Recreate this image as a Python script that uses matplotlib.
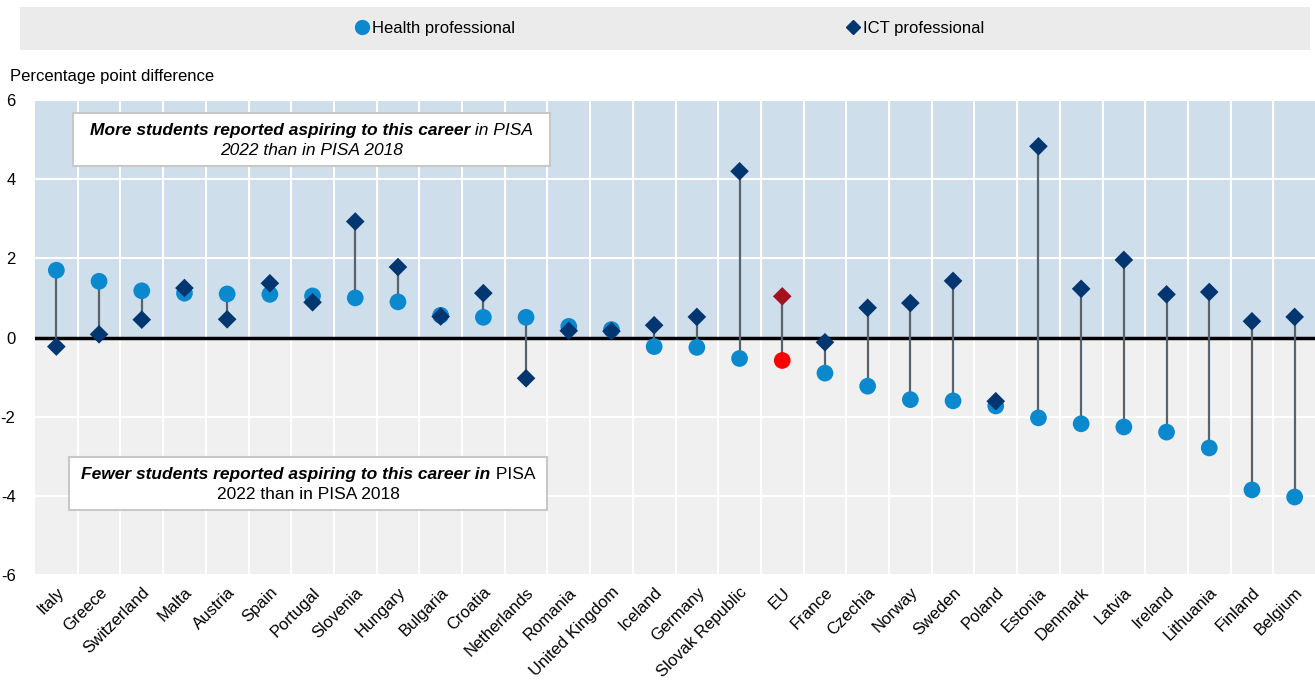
import numpy as np
import matplotlib.pyplot as plt
from matplotlib.patches import Rectangle
from matplotlib.lines import Line2D

plt.rcParams['font.family'] = ['Liberation Sans', 'DejaVu Sans']
plt.rcParams['axes.unicode_minus'] = False

countries = ["Italy", "Greece", "Switzerland", "Malta", "Austria", "Spain", "Portugal",
             "Slovenia", "Hungary", "Bulgaria", "Croatia", "Netherlands", "Romania",
             "United Kingdom", "Iceland", "Germany", "Slovak Republic", "EU", "France",
             "Czechia", "Norway", "Sweden", "Poland", "Estonia", "Denmark", "Latvia",
             "Ireland", "Lithuania", "Finland", "Belgium"]
health = [1.70, 1.42, 1.18, 1.12, 1.10, 1.09, 1.05, 1.00, 0.90, 0.56, 0.51, 0.51, 0.28,
          0.20, -0.23, -0.25, -0.53, -0.58, -0.90, -1.23, -1.57, -1.60, -1.73, -2.03,
          -2.18, -2.26, -2.39, -2.79, -3.85, -4.03]
ict = [-0.23, 0.08, 0.45, 1.25, 0.46, 1.37, 0.89, 2.93, 1.78, 0.53, 1.12, -1.03, 0.17,
       0.16, 0.31, 0.52, 4.20, 1.04, -0.12, 0.75, 0.87, 1.43, -1.61, 4.83, 1.23, 1.96,
       1.09, 1.15, 0.41, 0.52]
y_ticks = [-6, -4, -2, 0, 2, 4, 6]

c_health = "#0a89cf"
c_ict = "#023670"
c_health_eu = "#ff0000"
c_ict_eu = "#a3121e"

x = np.arange(len(countries))
eu = countries.index("EU")

fig = plt.figure(figsize=(13.15, 6.85), dpi=100)
ax = fig.add_axes([35 / 1315, 110 / 685, 1281 / 1315, 475 / 685])

ax.set_xlim(-0.5, len(countries) - 0.5)
ax.set_ylim(-6, 6)
ax.axhspan(0, 6, color="#cedeeb", zorder=0, lw=0)
ax.axhspan(-6, 0, color="#f0f0f0", zorder=0, lw=0)

ax.set_yticks(y_ticks)
ax.set_xticks(x)
ax.set_xticks(x[:-1] + 0.5, minor=True)
ax.grid(True, which="minor", axis="x", color="white", lw=1.5)
ax.grid(True, which="major", axis="y", color="white", lw=1.5)
ax.set_axisbelow(True)
for s in ax.spines.values():
    s.set_visible(False)
ax.tick_params(axis="both", which="both", length=0)
ax.tick_params(axis="y", labelsize=12, pad=14)
ax.set_xticklabels(countries, rotation=45, ha="right", rotation_mode="anchor", fontsize=12)
ax.tick_params(axis="x", pad=7)

ax.axhline(0, color="black", lw=2.5, zorder=2)

# stems
ax.vlines(x, health, ict, color="#58626b", lw=1.6, zorder=3)

hc = [c_health_eu if i == eu else c_health for i in x]
ic = [c_ict_eu if i == eu else c_ict for i in x]
ax.scatter(x, health, s=145, c=hc, marker="o", zorder=4, lw=0)
ax.scatter(x, ict, s=90, c=ic, marker="D", zorder=5, lw=0)

fig.text(10 / 1315, 1 - 76 / 685, "Percentage point difference", fontsize=12,
         ha="left", va="center")


# annotation boxes
def note_box(x0, x1, y0, y1, parts1, line2, style2):
    ax.add_patch(Rectangle((x0, y0), x1 - x0, y1 - y0, facecolor="white",
                           edgecolor="#c8c8c8", lw=1.5, zorder=6))
    xc = (x0 + x1) / 2
    ym = (y0 + y1) / 2
    t1 = ax.text(xc, ym, parts1[0][0], fontsize=12.5, ha="left", va="bottom",
                 fontweight=parts1[0][1], fontstyle=parts1[0][2], zorder=7)
    t2 = ax.annotate(parts1[1][0], xy=(1, 0), xycoords=t1, va="bottom", ha="left",
                     fontsize=12.5, fontweight=parts1[1][1], fontstyle=parts1[1][2], zorder=7)
    fig.canvas.draw()
    r = fig.canvas.get_renderer()
    w = t1.get_window_extent(r).width + t2.get_window_extent(r).width
    inv = ax.transData.inverted()
    px, py = ax.transData.transform((xc, ym))
    t1.set_position(inv.transform((px - w / 2, py + 2)))
    ax.text(xc, ym - 0.08, line2, fontsize=12.5, ha="center", va="top",
            fontstyle=style2, zorder=7)


note_box(0.39, 11.56, 4.34, 5.66,
         [("More students reported aspiring to this career", "bold", "italic"),
          (" in PISA", "normal", "italic")],
         "2022 than in PISA 2018", "italic")
note_box(0.30, 11.50, -4.37, -3.03,
         [("Fewer students reported aspiring to this career in", "bold", "italic"),
          (" PISA", "normal", "normal")],
         "2022 than in PISA 2018", "normal")

# legend band
fig.patches.append(Rectangle((20 / 1315, 1 - 50 / 685), 1290 / 1315, 43 / 685,
                             transform=fig.transFigure, facecolor="#ebebeb",
                             edgecolor="none", zorder=0))
handles = [Line2D([], [], marker="o", ls="none", color=c_health, markersize=10),
           Line2D([], [], marker="D", ls="none", color=c_ict, markersize=7)]
fig.legend(handles, ["Health professional", "ICT professional"], ncol=2,
           loc="center", bbox_to_anchor=(0.510, 1 - 28 / 685), frameon=False,
           fontsize=12, handlelength=0.6, handletextpad=0.3, columnspacing=20)

fig.savefig("out.png", dpi=100)
